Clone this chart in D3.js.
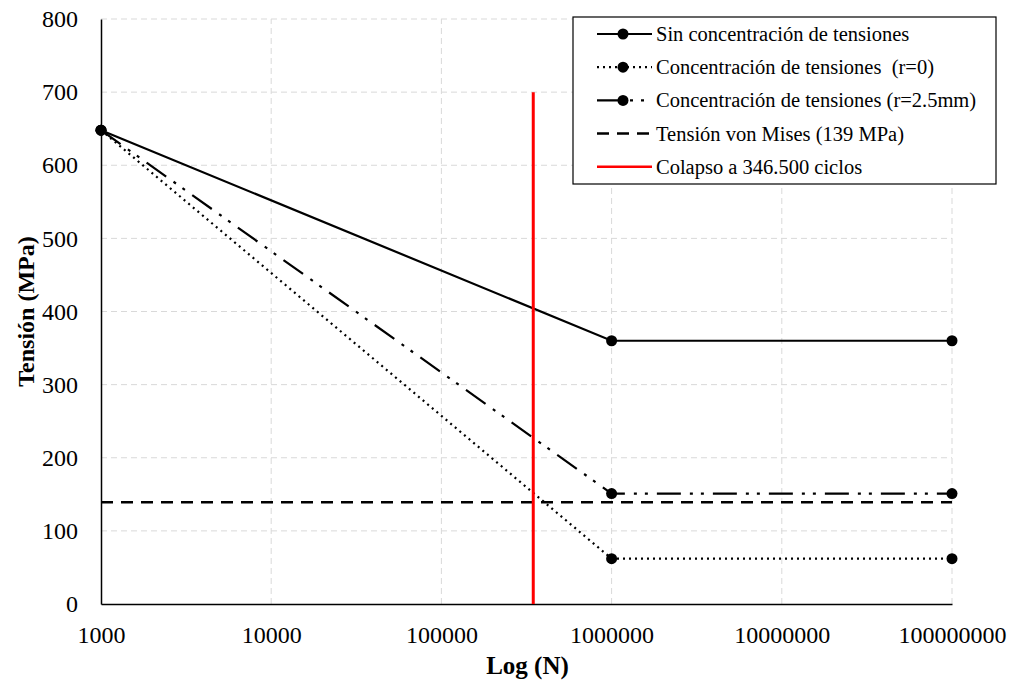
<!DOCTYPE html>
<html>
<head>
<meta charset="utf-8">
<script src="https://cdn.jsdelivr.net/npm/d3@7"></script>
<style>
  body { margin: 0; background: #fff; }
  svg text { font-family: "Liberation Serif", "DejaVu Serif", serif; }
</style>
</head>
<body>
<svg id="chart" width="1012" height="681"></svg>
<script>
// data
const ciclos = [1000, 1000000, 100000000];
const sinConcentracion = [648, 360, 360];
const concentracionR0 = [648, 62, 62];
const concentracionR25 = [648, 151, 151];
const vonMises = 139;
const colapso = 346500;
const colapsoTop = 700;
const xTicks = [1000, 10000, 100000, 1000000, 10000000, 100000000];
const yTicks = [0, 100, 200, 300, 400, 500, 600, 700, 800];

const serieNames = [
  "Sin concentración de tensiones",
  "Concentración de tensiones  (r=0)",
  "Concentración de tensiones (r=2.5mm)",
  "Tensión von Mises (139 MPa)",
  "Colapso a 346.500 ciclos"
];

const margin = { left: 101, right: 60, top: 19, bottom: 77 };
const width = 1012, height = 681;
const svg = d3.select('#chart');

const x = d3.scaleLog()
  .domain([1000, 100000000])
  .range([margin.left, width - margin.right]);
const y = d3.scaleLinear()
  .domain([0, 800])
  .range([height - margin.bottom, margin.top]);

// grid
const grid = svg.append('g');
grid.selectAll('.hgrid')
  .data(yTicks.filter(d => d > 0))
  .enter().append('line')
  .attr('x1', margin.left).attr('x2', x(1e8))
  .attr('y1', d => y(d)).attr('y2', d => y(d))
  .attr('stroke', '#d9d9d9').attr('stroke-width', 1)
  .attr('stroke-dasharray', '6,4');
grid.selectAll('.vgrid')
  .data(xTicks.filter(d => d > 1000))
  .enter().append('line')
  .attr('x1', d => x(d)).attr('x2', d => x(d))
  .attr('y1', y(0)).attr('y2', y(800))
  .attr('stroke', '#d9d9d9').attr('stroke-width', 1)
  .attr('stroke-dasharray', '6,4');

// axes
const xAxis = d3.axisBottom(x).tickValues(xTicks).tickFormat(d3.format('d')).tickSize(0).tickPadding(22);
const yAxis = d3.axisLeft(y).tickValues(yTicks).tickSize(0).tickPadding(23);

const gx = svg.append('g')
  .attr('transform', `translate(0,${y(0)})`)
  .call(xAxis)
  .attr('font-family', null);
gx.select('.domain').attr('stroke', '#000').attr('stroke-width', 1.5);
gx.selectAll('text').attr('font-size', 24).attr('fill', '#000');

const gy = svg.append('g')
  .attr('transform', `translate(${margin.left},0)`)
  .call(yAxis)
  .attr('font-family', null);
gy.select('.domain').attr('stroke', '#000').attr('stroke-width', 1.5);
gy.selectAll('text').attr('font-size', 24).attr('fill', '#000');

// axis titles
svg.append('text')
  .attr('x', (margin.left + x(1e8)) / 2 + 1).attr('y', 674)
  .attr('text-anchor', 'middle')
  .attr('font-size', 25).attr('font-weight', 'bold')
  .text('Log (N)');
svg.append('text')
  .attr('transform', `translate(34,${(y(0) + y(800)) / 2}) rotate(-90)`)
  .attr('text-anchor', 'middle')
  .attr('font-size', 24).attr('font-weight', 'bold')
  .text('Tensión (MPa)');

const line = d3.line().x(d => x(d[0])).y(d => y(d[1]));

const series = [
  { values: sinConcentracion, dash: null },
  { values: concentracionR0, dash: '2,4' },
  { values: concentracionR25, dash: '24,9,3,8,3,9' }
];

// von Mises
svg.append('path')
  .datum([[1000, vonMises], [1e8, vonMises]])
  .attr('d', line)
  .attr('fill', 'none').attr('stroke', '#000')
  .attr('stroke-width', 2.5).attr('stroke-dasharray', '12,8');

series.forEach(s => {
  const pts = ciclos.map((c, i) => [c, s.values[i]]);
  svg.append('path')
    .datum(pts)
    .attr('d', line)
    .attr('fill', 'none').attr('stroke', '#000')
    .attr('stroke-width', 2.2)
    .attr('stroke-dasharray', s.dash);
  svg.selectAll(null)
    .data(pts)
    .enter().append('circle')
    .attr('cx', d => x(d[0])).attr('cy', d => y(d[1]))
    .attr('r', 5.5).attr('fill', '#000');
});

// collapse line
svg.append('line')
  .attr('x1', x(colapso)).attr('x2', x(colapso))
  .attr('y1', y(0)).attr('y2', y(colapsoTop))
  .attr('stroke', '#ff0000').attr('stroke-width', 3);

// legend
const lg = svg.append('g').attr('transform', 'translate(573,17)');
lg.append('rect')
  .attr('width', 423).attr('height', 167)
  .attr('fill', '#fff').attr('stroke', '#000').attr('stroke-width', 1.2);

const legendStyles = [
  { dash: null, marker: true, color: '#000', w: 2.2 },
  { dash: '2,4', marker: true, color: '#000', w: 2.2 },
  { dash: '24,9,3,8,3,9', marker: true, color: '#000', w: 2.2 },
  { dash: '12,8', marker: false, color: '#000', w: 2.5 },
  { dash: null, marker: false, color: '#ff0000', w: 2.5 }
];

serieNames.forEach((name, i) => {
  const cy = 17 + i * 33.2;
  const st = legendStyles[i];
  lg.append('line')
    .attr('x1', 24).attr('x2', 79).attr('y1', cy).attr('y2', cy)
    .attr('stroke', st.color).attr('stroke-width', st.w)
    .attr('stroke-dasharray', st.dash);
  if (st.marker) {
    lg.append('circle').attr('cx', 50).attr('cy', cy).attr('r', 5.5).attr('fill', '#000');
  }
  lg.append('text')
    .attr('x', 83).attr('y', cy + 7)
    .attr('font-size', 20.5)
    .style('white-space', 'pre')
    .text(name);
});
</script>
</body>
</html>
